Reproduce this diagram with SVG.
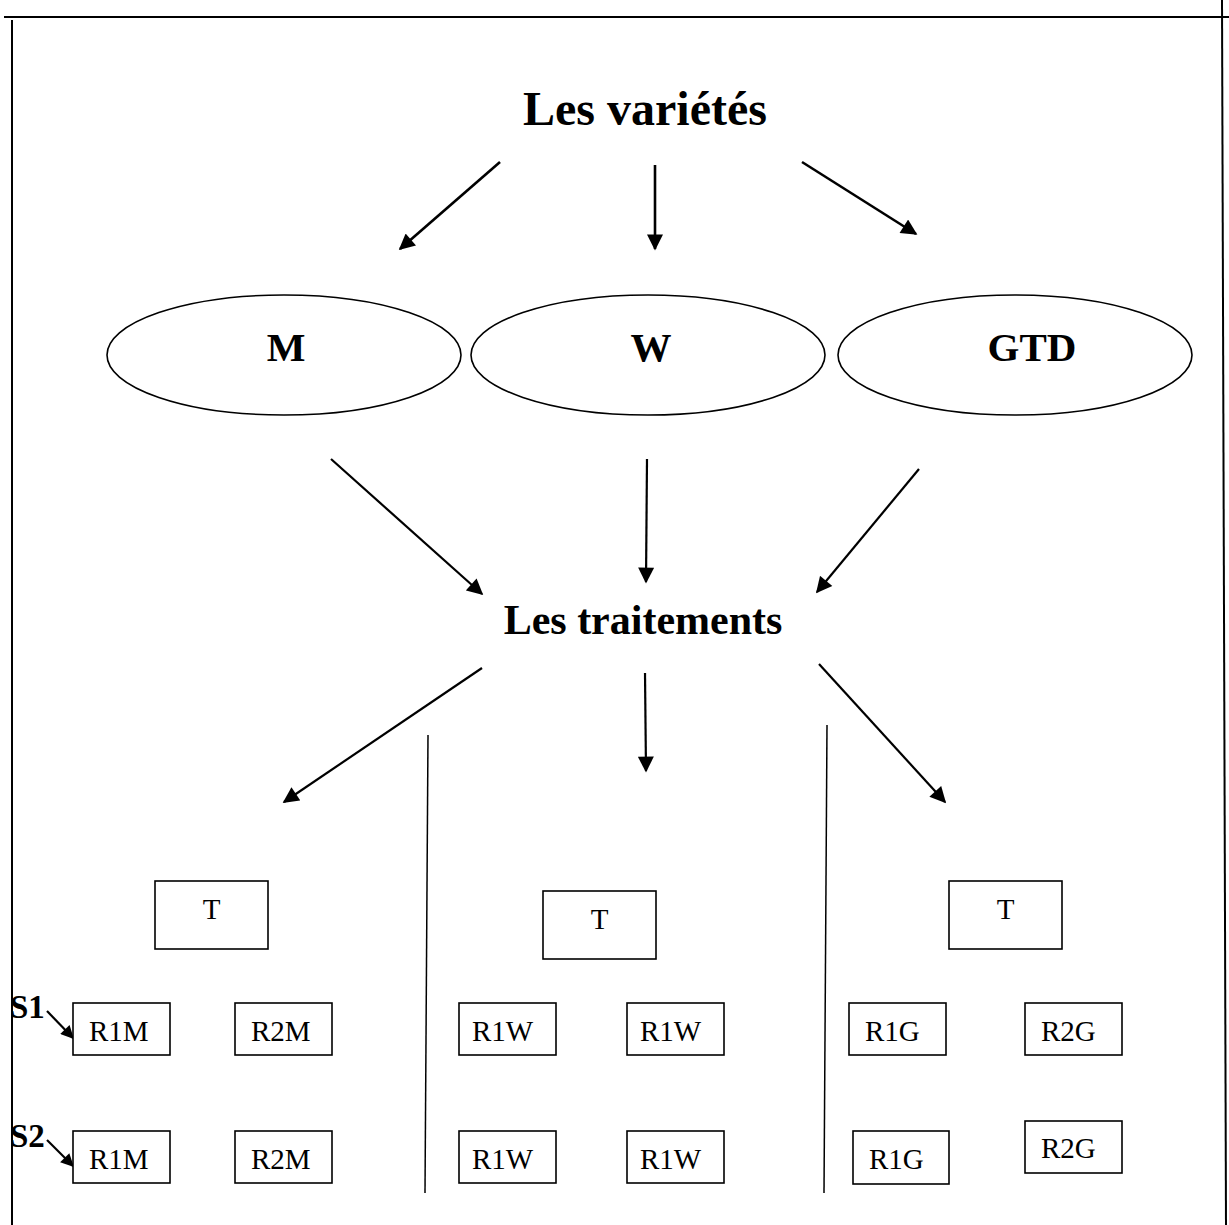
<svg xmlns="http://www.w3.org/2000/svg" width="1229" height="1225" viewBox="0 0 1229 1225">
<defs>
<marker id="ah" viewBox="0 0 10 10" refX="9" refY="5" markerUnits="userSpaceOnUse" markerWidth="17" markerHeight="16" orient="auto">
<path d="M0,0 L10,5 L0,10 z" fill="#000"/>
</marker>
<marker id="ahs" viewBox="0 0 10 10" refX="9" refY="5" markerUnits="userSpaceOnUse" markerWidth="14" markerHeight="13" orient="auto">
<path d="M0,0 L10,5 L0,10 z" fill="#000"/>
</marker>
</defs>
<style>
.title{font-family:"Liberation Serif","Times New Roman",serif;font-weight:bold;fill:#000}
.lbl{font-family:"Liberation Serif","Times New Roman",serif;font-size:29px;fill:#000}
.box{fill:#fff;stroke:#000;stroke-width:1.6}
.ell{fill:#fff;stroke:#000;stroke-width:1.6}
.arr{stroke:#000;stroke-width:2.2;fill:none;marker-end:url(#ah)}
.arrt{stroke:#000;stroke-width:2.6;fill:none;marker-end:url(#ah)}
.arrs{stroke:#000;stroke-width:2.2;fill:none;marker-end:url(#ahs)}
.frame{stroke:#000;stroke-width:2;fill:none}
.div{stroke:#000;stroke-width:1.5;fill:none}
</style>
<rect width="1229" height="1225" fill="#fff"/>
<g id="frame">
<line class="frame" x1="4" y1="17" x2="1229" y2="17" stroke-width="2.6"/>
<line class="frame" x1="12" y1="20" x2="12" y2="1225"/>
<line class="frame" x1="1222" y1="0" x2="1226" y2="1225"/>
<line class="div" x1="428" y1="735" x2="425" y2="1193"/>
<line class="div" x1="827" y1="725" x2="824" y2="1193"/>
</g>
<g id="varietes"><text class="title" x="645" y="125" font-size="48" text-anchor="middle">Les variétés</text></g>
<g id="traitements"><text class="title" x="643" y="634" font-size="42" text-anchor="middle">Les traitements</text></g>
<g id="node-M"><ellipse class="ell" cx="284" cy="355" rx="177" ry="60"/><text class="title" x="286" y="361" font-size="41" text-anchor="middle">M</text></g>
<g id="node-W"><ellipse class="ell" cx="648" cy="355" rx="177" ry="60"/><text class="title" x="651" y="361" font-size="41" text-anchor="middle">W</text></g>
<g id="node-GTD"><ellipse class="ell" cx="1015" cy="355" rx="177" ry="60"/><text class="title" x="1032" y="361" font-size="41" text-anchor="middle">GTD</text></g>
<g id="connectors">
<line class="arrt" x1="500" y1="162" x2="400" y2="249"/>
<line class="arrt" x1="655" y1="165" x2="655" y2="249"/>
<line class="arrt" x1="802" y1="162" x2="916" y2="234"/>
<line class="arr" x1="331" y1="459" x2="482" y2="594"/>
<line class="arr" x1="647" y1="459" x2="646" y2="582"/>
<line class="arr" x1="919" y1="469" x2="817" y2="592"/>
<line class="arr" x1="482" y1="668" x2="284" y2="802"/>
<line class="arr" x1="645" y1="673" x2="646" y2="771"/>
<line class="arr" x1="819" y1="664" x2="945" y2="802"/>
<line class="arrs" x1="47" y1="1011" x2="73" y2="1038"/>
<line class="arrs" x1="47" y1="1140" x2="73" y2="1166"/>
</g>
<g id="label-S1"><text class="title" x="10" y="1018" font-size="33">S1</text></g>
<g id="label-S2"><text class="title" x="10" y="1147" font-size="33">S2</text></g>
<g id="T-M"><rect class="box" x="155" y="881" width="113" height="68"/><text class="lbl" x="211.5" y="919" text-anchor="middle">T</text></g>
<g id="T-W"><rect class="box" x="543" y="891" width="113" height="68"/><text class="lbl" x="599.5" y="929" text-anchor="middle">T</text></g>
<g id="T-G"><rect class="box" x="949" y="881" width="113" height="68"/><text class="lbl" x="1005.5" y="919" text-anchor="middle">T</text></g>
<g id="S1-R1M"><rect class="box" x="73" y="1003" width="97" height="52"/><text class="lbl" x="89" y="1041">R1M</text></g>
<g id="S1-R2M"><rect class="box" x="235" y="1003" width="97" height="52"/><text class="lbl" x="251" y="1041">R2M</text></g>
<g id="S1-R1W-a"><rect class="box" x="459" y="1003" width="97" height="52"/><text class="lbl" x="472" y="1041">R1W</text></g>
<g id="S1-R1W-b"><rect class="box" x="627" y="1003" width="97" height="52"/><text class="lbl" x="640" y="1041">R1W</text></g>
<g id="S1-R1G"><rect class="box" x="849" y="1003" width="97" height="52"/><text class="lbl" x="865" y="1041">R1G</text></g>
<g id="S1-R2G"><rect class="box" x="1025" y="1003" width="97" height="52"/><text class="lbl" x="1041" y="1041">R2G</text></g>
<g id="S2-R1M"><rect class="box" x="73" y="1131" width="97" height="52"/><text class="lbl" x="89" y="1169">R1M</text></g>
<g id="S2-R2M"><rect class="box" x="235" y="1131" width="97" height="52"/><text class="lbl" x="251" y="1169">R2M</text></g>
<g id="S2-R1W-a"><rect class="box" x="459" y="1131" width="97" height="52"/><text class="lbl" x="472" y="1169">R1W</text></g>
<g id="S2-R1W-b"><rect class="box" x="627" y="1131" width="97" height="52"/><text class="lbl" x="640" y="1169">R1W</text></g>
<g id="S2-R1G"><rect class="box" x="853" y="1131" width="96" height="53"/><text class="lbl" x="869" y="1169">R1G</text></g>
<g id="S2-R2G"><rect class="box" x="1025" y="1121" width="97" height="52"/><text class="lbl" x="1041" y="1158">R2G</text></g>
</svg>
